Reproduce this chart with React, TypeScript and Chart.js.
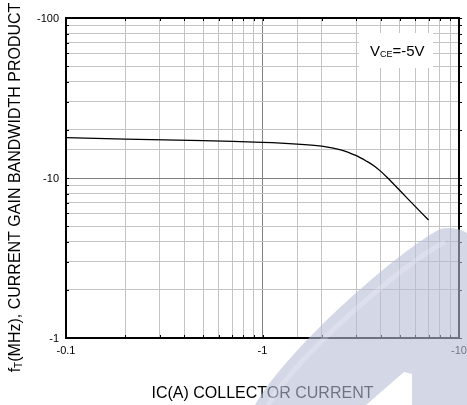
import React, { useEffect, useRef } from "react";
import { Chart, registerables } from "chart.js";

Chart.register(...registerables);

// Data (collector current in A, fT in MHz)
const IC_VALUES = [0.1, 0.2, 0.5, 1, 1.5, 2, 2.5, 3, 3.4, 3.7, 4, 4.3, 5, 6, 7];
const FT_VALUES = [17.9, 17.5, 17.1, 16.7, 16.3, 15.8, 15.0, 13.8, 12.7, 11.9, 11.0, 10.1, 8.35, 6.62, 5.46];

const X_TICK_VALUES = [0.1, 1, 10];
const X_TICK_LABELS = ["-0.1", "-1", "-10"];
const Y_TICK_VALUES = [1, 10, 100];
const Y_TICK_LABELS = ["-1", "-10", "-100"];

const X_TITLE = "IC(A) COLLECTOR CURRENT";
const Y_TITLE_MAIN = "f";
const Y_TITLE_SUB = "T";
const Y_TITLE_REST = "(MHz), CURRENT GAIN BANDWIDTH PRODUCT";
const LEGEND_MAIN = "V";
const LEGEND_SUB = "CE";
const LEGEND_REST = "=-5V";

const FONT = "'Liberation Sans', Arial, sans-serif";

const isDecade = (v: number) => {
  if (v === undefined || v === null) return false;
  const l = Math.log10(v);
  return Math.abs(l - Math.round(l)) < 1e-6;
};

const minorValues = (min: number, max: number) => {
  const out: number[] = [];
  for (let d = min; d < max * 0.999; d *= 10) {
    for (let k = 1; k < 10; k++) out.push(d * k);
  }
  out.push(max);
  return out;
};

const overlayPlugin = {
  id: "overlay",
  afterDraw(chart: any) {
    const ctx = chart.ctx as CanvasRenderingContext2D;
    const area = chart.chartArea;
    const xs = chart.scales.x;
    const ys = chart.scales.y;
    ctx.save();

    // legend box
    ctx.fillStyle = "#ffffff";
    ctx.fillRect(359, 33, 74, 35);
    ctx.fillStyle = "#000";
    ctx.textBaseline = "alphabetic";
    ctx.textAlign = "left";
    let lx = 370;
    const ly = 56;
    ctx.font = `15px ${FONT}`;
    ctx.fillText(LEGEND_MAIN, lx, ly);
    lx += ctx.measureText(LEGEND_MAIN).width;
    ctx.font = `9px ${FONT}`;
    ctx.fillText(LEGEND_SUB, lx, ly + 1);
    lx += ctx.measureText(LEGEND_SUB).width;
    ctx.font = `15px ${FONT}`;
    ctx.fillText(LEGEND_REST, lx, ly);

    // frame
    ctx.strokeStyle = "#000";
    ctx.lineWidth = 2;
    ctx.strokeRect(area.left, area.top, area.right - area.left, area.bottom - area.top);

    // minor tick marks
    ctx.lineWidth = 1;
    ctx.beginPath();
    for (const v of minorValues(0.1, 10)) {
      const px = Math.round(xs.getPixelForValue(v)) + 0.5;
      ctx.moveTo(px, area.bottom);
      ctx.lineTo(px, area.bottom - 3);
      ctx.moveTo(px, area.top);
      ctx.lineTo(px, area.top + 3);
    }
    for (const v of minorValues(1, 100)) {
      const py = Math.round(ys.getPixelForValue(v)) + 0.5;
      ctx.moveTo(area.left, py);
      ctx.lineTo(area.left + 3, py);
      ctx.moveTo(area.right, py);
      ctx.lineTo(area.right + 3, py);
    }
    ctx.stroke();

    // tick labels
    ctx.font = `11px ${FONT}`;
    ctx.fillStyle = "#000";
    ctx.textAlign = "right";
    ctx.textBaseline = "middle";
    Y_TICK_VALUES.forEach((v, i) => {
      ctx.fillText(Y_TICK_LABELS[i], area.left - 7, ys.getPixelForValue(v) + 1);
    });
    ctx.textAlign = "center";
    X_TICK_VALUES.forEach((v, i) => {
      ctx.fillText(X_TICK_LABELS[i], xs.getPixelForValue(v), 351);
    });

    // x title
    ctx.font = `16px ${FONT}`;
    ctx.textAlign = "center";
    ctx.textBaseline = "alphabetic";
    ctx.fillText(X_TITLE, (area.left + area.right) / 2, 398);

    // y title (rotated, with subscript)
    ctx.save();
    ctx.translate(20, 187.5);
    ctx.rotate(-Math.PI / 2);
    ctx.textAlign = "left";
    ctx.font = `16px ${FONT}`;
    const w1 = ctx.measureText(Y_TITLE_MAIN).width;
    const w3 = ctx.measureText(Y_TITLE_REST).width;
    ctx.font = `10px ${FONT}`;
    const w2 = ctx.measureText(Y_TITLE_SUB).width;
    let tx = -(w1 + w2 + w3) / 2;
    ctx.font = `16px ${FONT}`;
    ctx.fillText(Y_TITLE_MAIN, tx, 0);
    tx += w1;
    ctx.font = `10px ${FONT}`;
    ctx.fillText(Y_TITLE_SUB, tx, 2);
    tx += w2;
    ctx.font = `16px ${FONT}`;
    ctx.fillText(Y_TITLE_REST, tx, 0);
    ctx.restore();

    // watermark
    ctx.fillStyle = "rgba(182,188,214,0.6)";
    ctx.beginPath();
    ctx.moveTo(255, 405);
    ctx.bezierCurveTo(290, 345, 400, 250, 440, 229);
    ctx.quadraticCurveTo(455, 226, 467, 233);
    ctx.lineTo(467, 405);
    ctx.lineTo(412, 405);
    ctx.lineTo(412, 374);
    ctx.lineTo(404, 372);
    ctx.lineTo(366, 405);
    ctx.closePath();
    ctx.fill();
    ctx.strokeStyle = "rgba(255,255,255,0.22)";
    ctx.lineWidth = 5;
    ctx.beginPath();
    ctx.moveTo(268, 405);
    ctx.bezierCurveTo(300, 352, 405, 262, 445, 242);
    ctx.stroke();

    ctx.restore();
  },
};

export default function App() {
  const canvasRef = useRef<HTMLCanvasElement | null>(null);

  useEffect(() => {
    document.body.style.margin = "0";
    const canvas = canvasRef.current;
    if (!canvas) return;
    const gridColor = (c: any) => (isDecade(c.tick?.value) ? "#808080" : "#c4c4c4");
    const chart = new Chart(canvas, {
      type: "line",
      data: {
        datasets: [
          {
            data: IC_VALUES.map((x, i) => ({ x, y: FT_VALUES[i] })),
            borderColor: "#000",
            borderWidth: 1.3,
            pointRadius: 0,
            fill: false,
            tension: 0.3,
          },
        ],
      },
      options: {
        animation: false,
        responsive: true,
        maintainAspectRatio: false,
        layout: { padding: { top: 18, right: 8, left: 0, bottom: 0 } },
        plugins: { legend: { display: false }, tooltip: { enabled: false } },
        scales: {
          x: {
            type: "logarithmic",
            min: 0.1,
            max: 10,
            ticks: { display: false },
            grid: { color: gridColor, lineWidth: 1, drawTicks: false },
            border: { display: false },
            afterFit: (s: any) => {
              s.height = 67;
            },
          },
          y: {
            type: "logarithmic",
            min: 1,
            max: 100,
            ticks: { display: false },
            grid: { color: gridColor, lineWidth: 1, drawTicks: false },
            border: { display: false },
            afterFit: (s: any) => {
              s.width = 66;
            },
          },
        },
      },
      plugins: [overlayPlugin],
    } as any);
    return () => chart.destroy();
  }, []);

  return (
    <div style={{ width: 467, height: 405, position: "relative", background: "#fff" }}>
      <canvas ref={canvasRef} />
    </div>
  );
}
